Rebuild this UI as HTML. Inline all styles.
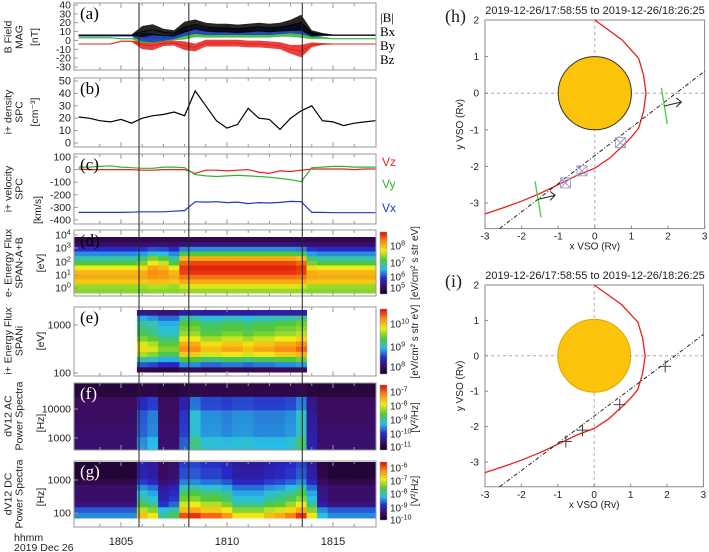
<!DOCTYPE html>
<html><head><meta charset="utf-8"><style>
body{margin:0;background:#fff}
svg{display:block;font-family:"Liberation Sans",sans-serif}
</style></head><body>
<svg id="fig" width="709" height="552" viewBox="0 0 709 552"></svg>
<script>
const times=[1803,1803.5,1804,1804.5,1805,1805.5,1806,1806.5,1807,1807.5,1808,1808.5,1809,1809.5,1810,1810.5,1811,1811.5,1812,1812.5,1813,1813.5,1814,1814.5,1815,1815.5,1816,1816.5,1817];
const bMag=[6,6,6,6,6,6,10,12,9,8,15,18,15,14,14,13,14,15,14,15,17,20,8,7,6,6,6,6,6];
const bAmp=[1,1,1,1,1,1,9,9,6,5,9,8,7,7,7,7,7,7,7,7,9,13,5,2,1,1,1,1,1];
const bX=[5,5,5,5,5,5,4,3,3,4,10,12,10,10,10,10,10,10,10,11,13,14,7,6,6,6,6,6,6];
const bY=[3,3,3,3,2,2,2,2,2,3,6,8,7,7,7,7,7,7,7,8,9,10,4,3,2,2,2,2,2];
const bZ=[-4,-4,-4,-4,-1,-1,-5,-6,-3,-3,-6,-8,-3,-3,-3,-3,-4,-4,-5,-6,-10,-12,-5,-4,-4,-4,-4,-4,-4];
const density=[21,20,18,17,19,16,20,22,23,25,22,42,30,18,12,15,28,20,19,11,20,26,30,18,17,14,16,17,18];
const vZ=[5,0,0,0,0,0,-5,-5,0,0,0,-30,-5,-5,-10,-5,0,-20,-30,-10,-15,-5,5,5,5,5,0,5,5];
const vY=[20,20,25,30,20,15,10,10,20,20,15,-40,-50,-55,-50,-45,-50,-55,-60,-70,-80,-95,15,20,25,25,20,20,20];
const vX=[-340,-340,-340,-340,-340,-338,-335,-335,-335,-330,-325,-255,-258,-255,-262,-258,-270,-262,-265,-260,-252,-255,-340,-340,-342,-342,-342,-342,-342];
const eQuiet=[0.6,0.62,0.75,0.8,0.78,0.7,0.55,0.45,0.35,0.25,0.12,0.08];
const eDist=[0.62,0.68,0.8,0.88,0.95,0.97,0.93,0.8,0.55,0.35,0.15,0.08];
const eMix=[0,0,0,0,0,0,0.1,0.4,0.3,0,0.9,1,1,1,1,1,1,1,1,1,1,0.9,0.1,0,0,0,0,0,0];
const iProfile=[0.1,0.35,0.55,0.75,0.85,0.8,0.7,0.62,0.58,0.55,0.45,0.2];
const iMix=[0,0,0,0,0,0,0.85,0.8,0.7,0.7,1,1,0.9,0.9,0.95,0.95,0.9,0.95,0.95,1,1,1.05,0,0,0,0,0,0,0];
const acAct=[0,0,0,0,0,0,0.25,0.3,0,0,0.2,0.4,0.32,0.32,0.3,0.32,0.32,0.3,0.3,0.3,0.32,0.42,0.1,0,0,0,0,0,0];
const dcProfileQ=[0.35,0.3,0.15,0.12,0.12,0.12,0.08,0.05,0.05,0.05];
const dcProfileA=[0.95,0.8,0.7,0.6,0.55,0.45,0.35,0.3,0.3,0.28];
const dcAct=[0,0,0,0,0,0,0.7,0.6,0.2,0.3,0.95,1,0.9,0.9,0.8,0.6,0.6,0.6,0.7,0.75,0.85,1,0.6,0.1,0,0,0,0,0];
const shockX=[-3,-2.5,-2,-1.5,-1,-0.5,0,0.4,0.75,1.0,1.2,1.33,1.4,1.33,1.2,0.75,0];
const shockY=[-3.3,-3.13,-2.95,-2.74,-2.5,-2.25,-2.05,-1.78,-1.45,-1.2,-0.95,-0.5,0,0.5,0.95,1.45,2];
const trajX=[-2.6,3];
const trajY=[-3.7,0.6];
const sqX=[-0.8,-0.35,0.7];
const sqY=[-2.45,-2.12,-1.35];
const plusX=[-0.78,-0.32,0.7,1.95];
const plusY=[-2.42,-2.1,-1.38,-0.3];

const NS="http://www.w3.org/2000/svg";
const svg=document.getElementById('fig');
function el(tag,attrs,parent){const e=document.createElementNS(NS,tag);for(const k in attrs)e.setAttribute(k,attrs[k]);(parent||svg).appendChild(e);return e;}
function txt(s,attrs,parent){const e=el('text',attrs,parent);e.textContent=s;return e;}
const X0=74,X1=376;
function xT(t){return 227+(t-1810)*21.2;}
function jet(v){v=Math.max(0,Math.min(1,v));const st=[[0,[10,0,20]],[0.1,[60,10,90]],[0.25,[40,40,200]],[0.4,[40,190,230]],[0.55,[80,200,60]],[0.7,[240,235,20]],[0.85,[250,140,20]],[1,[220,10,10]]];for(let i=1;i<st.length;i++){if(v<=st[i][0]){const a=st[i-1],b=st[i],f=(v-a[0])/(b[0]-a[0]);return 'rgb('+a[1].map((c,j)=>Math.round(c+(b[1][j]-c)*f)).join(',')+')';}}return 'rgb(220,10,10)';}

const panels=[{k:'a',y0:3,y1:70},{k:'b',y0:78,y1:147},{k:'c',y0:154,y1:224},{k:'d',y0:230,y1:296},{k:'e',y0:307,y1:376},{k:'f',y0:383,y1:450},{k:'g',y0:461,y1:527}];
function linePath(ys,yf){return times.map((t,i)=>(i?'L':'M')+xT(t).toFixed(1)+','+yf(ys[i]).toFixed(1)).join('');}
function envelope(mid,amp,yf,scale){let up=times.map((t,i)=>xT(t).toFixed(1)+','+yf(mid[i]+amp[i]*scale).toFixed(1));let dn=times.map((t,i)=>xT(t).toFixed(1)+','+yf(mid[i]-amp[i]*scale).toFixed(1)).reverse();return up.concat(dn).join(' ');}

const ya=v=>5+(40-v)*62/70;
const ga=el('g',{});

[[bZ,'#e8201c','bz'],[bY,'#2fb52f','by'],[bX,'#2038c8','bx'],[bMag,'#000','bmag']].forEach(([arr,c,n])=>{
 const p=el('polygon',{points:envelope(arr,bAmp,ya,n==='bmag'?0.7:0.55),fill:c,opacity:0.85},ga);
 
 const l=el('path',{d:linePath(arr,ya),fill:'none',stroke:c,'stroke-width':1},ga);
 
});
const yb=v=>143-v*62/50;
const pb=el('path',{d:linePath(density,yb),fill:'none',stroke:'#000','stroke-width':1.2});

const yc=v=>157+(100-v)*63/500;
[[vZ,'#e8201c','vz'],[vY,'#2fb52f','vy'],[vX,'#2038c8','vx']].forEach(([a,c,n])=>{const p=el('path',{d:linePath(a,yc),fill:'none',stroke:c,'stroke-width':1.2});});

const dw=xT(1803.5)-xT(1803);
function cellsX(i){return [Math.max(X0,xT(times[i])-dw/2),Math.min(X1,xT(times[i])+dw/2)];}
const yd0=293,yd1=237;
for(let i=0;i<times.length;i++){const [a,b]=cellsX(i);const rows=eQuiet.length,h=(yd0-yd1)/rows;for(let r=0;r<rows;r++){const v=(1-eMix[i])*eQuiet[r]+eMix[i]*eDist[r];const c=el('rect',{x:a,y:yd0-(r+1)*h,width:b-a+0.5,height:h+0.5,fill:jet(v)});}}
const ye0=372,ye1=310;
for(let i=0;i<times.length;i++){if(iMix[i]<=0)continue;const [a,b]=cellsX(i);const rows=iProfile.length,h=(ye0-ye1)/rows;for(let r=0;r<rows;r++){const v=iProfile[r]*iMix[i];const c=el('rect',{x:a,y:ye0-(r+1)*h,width:b-a+0.5,height:h+0.5,fill:jet(v)});}}
const yf0=450,yf1=383,fRows=10;
for(let i=0;i<times.length;i++){const [a,b]=cellsX(i);const h=(yf0-yf1)/fRows;for(let r=0;r<fRows;r++){const base=r>=8?0.06:0.1+0.03*(8-r)/8;const v=base+acAct[i]*(r<2?0.9:r<6?0.75:r<8?0.55:0.05);const c=el('rect',{x:a,y:yf0-(r+1)*h,width:b-a+0.5,height:h+0.5,fill:jet(v)});}}
const yg0=518,yg1=462;
for(let i=0;i<times.length;i++){const [a,b]=cellsX(i);const rows=dcProfileQ.length,h=(yg0-yg1)/rows;for(let r=0;r<rows;r++){const v=dcProfileQ[r]+(dcProfileA[r]-dcProfileQ[r])*dcAct[i];const c=el('rect',{x:a,y:yg0-(r+1)*h,width:b-a+0.5,height:h+0.5,fill:jet(v)});}}

panels.forEach(p=>{const r=el('rect',{x:X0,y:p.y0,width:X1-X0,height:p.y1-p.y0,fill:'none',stroke:'#999','stroke-width':1});
 for(let t=1804;t<=1816;t++){const x=xT(t),L=(t%5===0)?5:3;el('line',{x1:x,x2:x,y1:p.y1,y2:p.y1-L,stroke:'#999'});el('line',{x1:x,x2:x,y1:p.y0,y2:p.y0+L,stroke:'#999'});}
 const lab=txt('('+p.k+')',{x:80,y:p.y0+16,'font-family':'Liberation Serif,serif','font-size':17,fill:p.k==='f'||p.k==='g'?'#fff':'#000'});
});
[1805.85,1808.2,1813.55].forEach((t,i)=>{const l=el('line',{x1:xT(t),x2:xT(t),y1:3,y2:527,stroke:'#222','stroke-width':1});});

function yl(s,y,ps){const t=txt(s,{x:71,y:y+3.5,'font-size':ps||10.5,'text-anchor':'end',fill:'#222'});el('line',{x1:X0,x2:X0+4,y1:y,y2:y,stroke:'#999'});}
function sup(base,exp,x,y,anchor,fs){const t=el('text',{x:x,y:y+3.5,'font-size':fs||10.5,'text-anchor':anchor||'end',fill:'#222'});t.appendChild(document.createTextNode(base));const s=el('tspan',{dy:-4,'font-size':(fs||10.5)*0.72},t);s.textContent=exp;return t;}
[40,30,20,10,0,-10,-20,-30].forEach(v=>yl(String(v),ya(v)));
[50,40,30,20,10,0].forEach(v=>yl(String(v),yb(v),11));
[100,0,-100,-200,-300,-400].forEach(v=>yl(String(v),yc(v)));
[['4',235],['3',248],['2',262],['1',275],['0',288]].forEach(([e,y])=>{sup('10',e,71,y);el('line',{x1:X0,x2:X0+4,y1:y,y2:y,stroke:'#999'});});
yl('1000',325);yl('100',373);yl('10000',409);yl('1000',438);yl('1000',480);yl('100',513);

function ytitle(lines,cx,cy,name){const g=el('g',{transform:'translate('+cx+','+cy+') rotate(-90)'});lines.forEach((s,i)=>txt(s,{x:0,y:i*11-(lines.length-1)*5.5+4,'font-size':10.5,'text-anchor':'middle',fill:'#222'},g));}
ytitle(['B Field','MAG'],13,37,'y-title-a');ytitle(['[nT]'],34,37,'y-unit-a');
ytitle(['i+ density','SPC'],13,112,'y-title-b');ytitle(['[cm⁻³]'],34,112,'y-unit-b');
ytitle(['i+ velocity','SPC'],13,189,'y-title-c');ytitle(['[km/s]'],37,210,'y-unit-c');
ytitle(['e- Energy Flux','SPAN-A+B'],13,263,'y-title-d');ytitle(['[eV]'],40,263,'y-unit-d');
ytitle(['i+ Energy Flux','SPANi'],13,341,'y-title-e');ytitle(['[eV]'],40,341,'y-unit-e');
ytitle(['dV12 AC','Power Spectra'],13,416,'y-title-f');ytitle(['[Hz]'],40,423,'y-unit-f');
ytitle(['dV12 DC','Power Spectra'],13,494,'y-title-g');ytitle(['[Hz]'],40,497,'y-unit-g');

[['|B|',22,'#000'],['Bx',36,'#000'],['By',50,'#000'],['Bz',64,'#000']].forEach(([s,y,c])=>{const t=txt(s,{x:380,y:y,'font-family':'Liberation Serif,serif','font-size':13,fill:c});});
[['Vz',166,'#e8201c'],['Vy',188,'#2fb52f'],['Vx',212,'#2038c8']].forEach(([s,y,c])=>{const t=txt(s,{x:382,y:y,'font-size':12,fill:c});});

const defs=el('defs',{});
const gr=el('linearGradient',{id:'cb',x1:0,y1:1,x2:0,y2:0},defs);
[0,0.1,0.25,0.4,0.55,0.7,0.85,1].forEach(o=>el('stop',{offset:o,'stop-color':jet(o)},gr));
function cbar(y0,y1,ticks,unit,name){const r=el('rect',{x:380,y:y0,width:7,height:y1-y0,fill:'url(#cb)',stroke:'#999','stroke-width':0.5});ticks.forEach(([e,y])=>sup('10',e,390,y,'start',10));const g=el('g',{transform:'translate(414,'+((y0+y1)/2)+') rotate(-90)'});txt(unit,{x:0,y:4,'font-size':10,'text-anchor':'middle',fill:'#222'},g);}
cbar(232,294,[['8',246],['7',263],['6',277],['5',288]],'[eV/cm² s str eV]','colorbar-d');
cbar(309,374,[['10',324],['9',347],['8',367]],'[eV/cm² s str eV]','colorbar-e');
cbar(385,450,[['-7',392],['-8',406],['-9',420],['-10',434],['-11',447]],'[V²/Hz]','colorbar-f');
cbar(462,520,[['-6',468],['-7',481],['-8',494],['-9',508],['-10',520]],'[V²/Hz]','colorbar-g');

[1805,1810,1815].forEach(t=>{const l=txt(String(t),{x:xT(t),y:545,'font-size':11,'text-anchor':'middle',fill:'#222'});});
const hh=txt('hhmm',{x:14,y:541,'font-size':10.5,fill:'#222'});
const dd=txt('2019 Dec 26',{x:14,y:551,'font-size':10.5,fill:'#222'});

function orbit(name,label,top,sx,sy,mode){
 const px0=485,yBot=top+5.7*sy;
 const X=v=>px0+(v+3)*sx, Y=v=>top+(2-v)*sy;
 const g=el('g',{});
 el('rect',{x:px0,y:top,width:6*sx,height:5.7*sy,fill:'none',stroke:'#888'},g);
 el('line',{x1:X(0),x2:X(0),y1:top,y2:yBot,stroke:'#aaa','stroke-dasharray':'3,3'},g);
 el('line',{x1:px0,x2:X(3),y1:Y(0),y2:Y(0),stroke:'#aaa','stroke-dasharray':'3,3'},g);
 const pl=el('circle',{cx:X(0),cy:Y(0),r:sx,fill:'#fcc30b',stroke:mode==='h'?'#333':'#e0a800','stroke-width':1},g);
 const sh=el('path',{d:shockX.map((v,i)=>(i?'L':'M')+X(v).toFixed(1)+','+Y(shockY[i]).toFixed(1)).join(''),fill:'none',stroke:'#e8201c','stroke-width':1.3},g);
 const tr=el('line',{x1:X(trajX[0]),y1:Y(trajY[0]),x2:X(trajX[1]),y2:Y(trajY[1]),stroke:'#222','stroke-dasharray':'4,2,1,2','stroke-width':1},g);
 if(mode==='h'){
  sqX.forEach((v,i)=>{const x=X(v),y=Y(sqY[i]);const s=el('rect',{x:x-5,y:y-5,width:10,height:10,fill:'none',stroke:'#99c',opacity:0.9},g);el('line',{x1:x-5,y1:y-5,x2:x+5,y2:y+5,stroke:'#99c'},g);el('line',{x1:x+5,y1:y-5,x2:x-5,y2:y+5,stroke:'#99c'},g);});
  [[-1.55,-2.9],[1.9,-0.35]].forEach(([a,b])=>{const x=X(a),y=Y(b);const n=el('line',{x1:x-3,y1:y-18,x2:x+3,y2:y+18,stroke:'#4c4','stroke-width':1.3},g);el('path',{d:`M${x},${y} L${x+17},${y-4} M${x+12},${y-8} L${x+17},${y-4} L${x+12},${y+1}`,fill:'none',stroke:'#222'},g);});
 }else{
  plusX.forEach((v,i)=>{const x=X(v),y=Y(plusY[i]);const p=el('path',{d:`M${x-6},${y}L${x+6},${y}M${x},${y-6}L${x},${y+6}`,stroke:'#444','stroke-width':1},g);});
 }
 [-3,-2,-1,0,1,2,3].forEach(v=>{txt(String(v),{x:X(v),y:yBot+11,'font-size':10,'text-anchor':'middle',fill:'#222'},g);el('line',{x1:X(v),x2:X(v),y1:yBot,y2:yBot-3,stroke:'#888'},g);});
 [2,1,0,-1,-2,-3].forEach(v=>{txt(String(v),{x:px0-6,y:Y(v)+3.5,'font-size':10,'text-anchor':'end',fill:'#222'},g);el('line',{x1:px0,x2:px0+3,y1:Y(v),y2:Y(v),stroke:'#888'},g);});
 const xt=txt('x VSO (Rv)',{x:X(0),y:yBot+21,'font-size':10,'text-anchor':'middle',fill:'#222'},g);
 const yg=el('g',{transform:`translate(${px0-22},${Y(-0.85)}) rotate(-90)`},g);txt('y VSO (Rv)',{x:0,y:0,'font-size':10,'text-anchor':'middle',fill:'#222'},yg);
 const tt=txt('2019-12-26/17:58:55 to 2019-12-26/18:26:25',{x:595,y:top-6,'font-size':11,'text-anchor':'middle',fill:'#222'},g);
 const lb=txt(label,{x:445,y:top+2,'font-family':'Liberation Serif,serif','font-size':18,fill:'#222'},g);
}
orbit('orbit-panel-h','(h)',20,36.6,36.6,'h');
orbit('orbit-panel-i','(i)',285,36.4,35.4,'i');
</script>
</body></html>
